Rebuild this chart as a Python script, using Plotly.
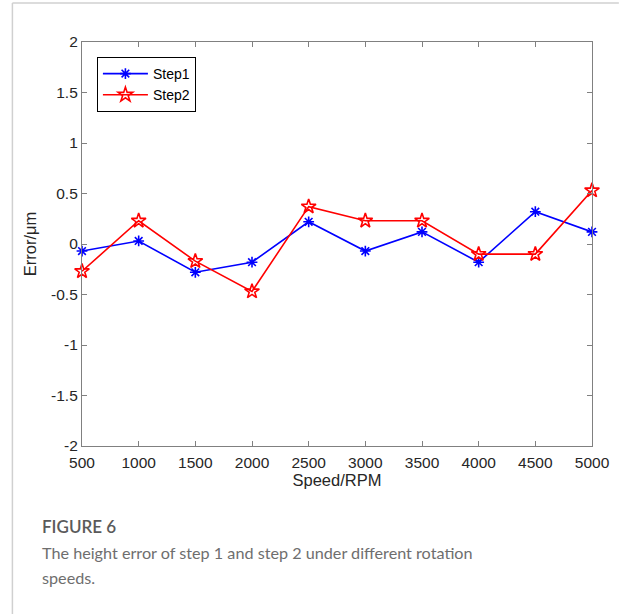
import plotly.graph_objects as go

speeds = [500, 1000, 1500, 2000, 2500, 3000, 3500, 4000, 4500, 5000]
step1 = [-0.07, 0.03, -0.28, -0.18, 0.22, -0.07, 0.12, -0.18, 0.32, 0.12]
step2 = [-0.27, 0.23, -0.17, -0.47, 0.37, 0.23, 0.23, -0.10, -0.10, 0.53]
x_ticks = [500, 1000, 1500, 2000, 2500, 3000, 3500, 4000, 4500, 5000]
y_ticks = [-2, -1.5, -1, -0.5, 0, 0.5, 1, 1.5, 2]
y_ticklabels = ["-2", "-1.5", "-1", "-0.5", "0", "0.5", "1", "1.5", "2"]

L, R, T, B = 82, 27, 42, 168
W, H = 622, 614
pw, ph = W - L - R, H - T - B

def px(x):
    return (x - L) / pw

def py(y):
    return (T + ph - y) / ph

AX_FONT = "Liberation Sans"

fig = go.Figure()
fig.add_trace(go.Scatter(
    x=speeds, y=step1, mode="lines+markers", name="Step1", cliponaxis=False,
    line=dict(color="#0000ff", width=1.6),
    marker=dict(symbol="asterisk-open", size=9, color="#0000ff", line=dict(color="#0000ff", width=1.6)),
))
fig.add_trace(go.Scatter(
    x=speeds, y=step2, mode="lines+markers", name="Step2", cliponaxis=False,
    line=dict(color="#ff0000", width=1.6),
    marker=dict(symbol="star-open", size=11, color="#ff0000", line=dict(color="#ff0000", width=1.6)),
))

tick_font = dict(family=AX_FONT, size=15.5, color="#262626")
axis_common = dict(
    showline=True, linecolor="#808080", linewidth=1.2, mirror="ticks",
    ticks="inside", ticklen=5, tickcolor="#808080", tickwidth=1,
    showgrid=False, zeroline=False, tickfont=tick_font,
)

fig.update_xaxes(range=[500, 5000], tickvals=x_ticks, ticktext=[str(v) for v in x_ticks],
                 ticklabelstandoff=2,
                 title=dict(text="Speed/RPM", font=dict(family=AX_FONT, size=16.5, color="#262626"), standoff=4),
                 **axis_common)
fig.update_yaxes(range=[-2, 2], tickvals=y_ticks, ticktext=y_ticklabels,
                 title=dict(text="Error/μm", font=dict(family=AX_FONT, size=16.5, color="#262626"), standoff=10),
                 **axis_common)

fig.update_layout(
    width=W, height=H,
    font=dict(family=AX_FONT),
    margin=dict(l=L, r=R, t=T, b=B),
    paper_bgcolor="white", plot_bgcolor="white",
    legend=dict(x=px(97), y=py(57), xanchor="left", yanchor="top",
                bordercolor="#000000", borderwidth=1, bgcolor="white",
                font=dict(family=AX_FONT, size=14, color="#000000"),
                tracegroupgap=0, itemwidth=45),
    showlegend=True,
)

# card frame
fig.add_shape(type="line", xref="paper", yref="paper", x0=px(12), x1=px(622), y0=py(3), y1=py(3),
              line=dict(color="#d0d0d0", width=1.5))
fig.add_shape(type="line", xref="paper", yref="paper", x0=px(12), x1=px(12), y0=py(3), y1=py(614),
              line=dict(color="#d0d0d0", width=1.5))

cap_font = "Lato"
fig.add_annotation(text="FIGURE 6", xref="paper", yref="paper", x=px(40), y=py(526),
                   xanchor="left", yanchor="middle", showarrow=False,
                   font=dict(family=cap_font, size=17, color="#5a5a5a", weight=600))
fig.add_annotation(text="The height error of step 1 and step 2 under different rotation", xref="paper", yref="paper",
                   x=px(40), y=py(552), xanchor="left", yanchor="middle", showarrow=False,
                   font=dict(family=cap_font, size=16.2, color="#6e6e6e"))
fig.add_annotation(text="speeds.", xref="paper", yref="paper",
                   x=px(40), y=py(577), xanchor="left", yanchor="middle", showarrow=False,
                   font=dict(family=cap_font, size=16.2, color="#6e6e6e"))

fig.write_html("out.html")
